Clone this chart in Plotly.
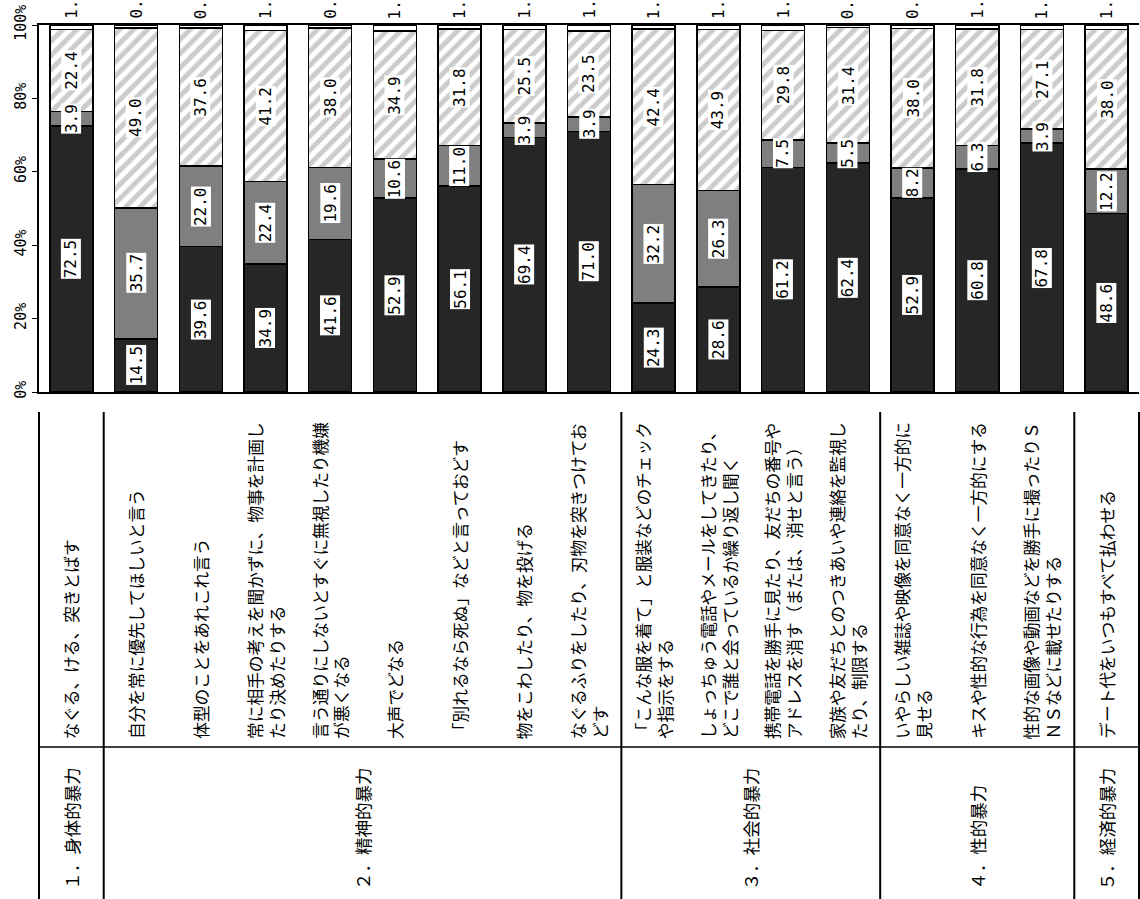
import plotly.graph_objects as go

# ---------------- data ----------------
items = [
    "なぐる、ける、突きとばす",
    "自分を常に優先してほしいと言う",
    "体型のことをあれこれ言う",
    "常に相手の考えを聞かずに、物事を計画し<br>たり決めたりする",
    "言う通りにしないとすぐに無視したり機嫌<br>が悪くなる",
    "大声でどなる",
    "「別れるなら死ぬ」などと言っておどす",
    "物をこわしたり、物を投げる",
    "なぐるふりをしたり、刃物を突きつけてお<br>どす",
    "「こんな服を着て」と服装などのチェック<br>や指示をする",
    "しょっちゅう電話やメールをしてきたり、<br>どこで誰と会っているか繰り返し聞く",
    "携帯電話を勝手に見たり、友だちの番号や<br>アドレスを消す（または、消せと言う）",
    "家族や友だちとのつきあいや連絡を監視し<br>たり、制限する",
    "いやらしい雑誌や映像を同意なく一方的に<br>見せる",
    "キスや性的な行為を同意なく一方的にする",
    "性的な画像や動画などを勝手に撮ったりＳ<br>ＮＳなどに載せたりする",
    "デート代をいつもすべて払わせる",
]
s1 = [72.5, 14.5, 39.6, 34.9, 41.6, 52.9, 56.1, 69.4, 71.0, 24.3, 28.6, 61.2, 62.4, 52.9, 60.8, 67.8, 48.6]
s2 = [3.9, 35.7, 22.0, 22.4, 19.6, 10.6, 11.0, 3.9, 3.9, 32.2, 26.3, 7.5, 5.5, 8.2, 6.3, 3.9, 12.2]
s3 = [22.4, 49.0, 37.6, 41.2, 38.0, 34.9, 31.8, 25.5, 23.5, 42.4, 43.9, 29.8, 31.4, 38.0, 31.8, 27.1, 38.0]
s4 = [1.2, 0.8, 0.8, 1.5, 0.8, 1.6, 1.1, 1.2, 1.6, 1.1, 1.2, 1.5, 0.7, 0.9, 1.1, 1.2, 1.2]

group_labels = ["１．身体的暴力", "２．精神的暴力", "３．社会的暴力", "４．性的暴力", "５．経済的暴力"]
group_sizes = [1, 8, 4, 3, 1]

y_ticks = [0, 20, 40, 60, 80, 100]

# ---------------- figure ----------------
W, H = 1140, 899
M_L, M_R, M_T, M_B = 39, 1, 25, 507
PLOT_H = H - M_T - M_B
Y0_PIX = H - M_B  # pixel of y=0


def pp(ypix):
    """pixel row -> paper y"""
    return (Y0_PIX - ypix) / PLOT_H


cats = [t.replace("<br>", "") for t in items]
n = len(cats)

fig = go.Figure()
line = dict(color="black", width=1.5)
fig.add_bar(x=cats, y=s1, marker=dict(color="#262626", line=line), showlegend=False, hoverinfo="skip")
fig.add_bar(x=cats, y=s2, marker=dict(color="#7f7f7f", line=line), showlegend=False, hoverinfo="skip")
fig.add_bar(x=cats, y=s3, marker=dict(color="white", line=line,
                                      pattern=dict(shape="/", fgcolor="#9a9a9a", bgcolor="white",
                                                   size=10, solidity=0.5)),
            showlegend=False, hoverinfo="skip")
fig.add_bar(x=cats, y=s4, marker=dict(color="white", line=line), showlegend=False, hoverinfo="skip")

ann = []
lab_font = dict(family="DejaVu Sans Mono", size=16, color="black")
for i, c in enumerate(cats):
    base = 0
    for vals in (s1, s2, s3):
        v = vals[i]
        ann.append(dict(x=c, y=base + v / 2, xref="x", yref="y", text=f"{v:.1f}",
                        textangle=-90, showarrow=False, bgcolor="white", borderpad=0,
                        font=lab_font, xanchor="center", yanchor="middle"))
        base += v
    # the small remainder label sits above the plot, cut off by the page top
    ann.append(dict(x=c, y=1, xref="x", yref="paper", yshift=4, text=f"{s4[i]:.1f}",
                    textangle=-90, showarrow=False, font=lab_font,
                    xanchor="center", yanchor="bottom"))
    # item text in the table below
    ann.append(dict(x=c, y=pp(741), xref="x", yref="paper", text=items[i], textangle=-90,
                    showarrow=False, align="left", xanchor="center", yanchor="bottom",
                    font=dict(family="Noto Sans CJK JP", size=16.7, color="black")))

shapes = []
bounds = [0]
for s in group_sizes:
    bounds.append(bounds[-1] + s)
for b in bounds:
    shapes.append(dict(type="line", xref="paper", yref="paper", x0=b / n, x1=b / n,
                       y0=pp(412), y1=pp(905), line=dict(color="black", width=2)))
shapes.append(dict(type="line", xref="paper", yref="paper", x0=0, x1=1,
                   y0=pp(747), y1=pp(747), line=dict(color="black", width=1.5)))

for g, lab in enumerate(group_labels):
    xc = (bounds[g] + bounds[g + 1]) / 2 / n
    ann.append(dict(x=xc, y=pp(892), xref="paper", yref="paper", text=lab, textangle=-90,
                    showarrow=False, xanchor="center", yanchor="bottom",
                    font=dict(family="Noto Sans CJK JP", size=17.5, color="black")))

fig.update_layout(
    width=W, height=H,
    margin=dict(l=M_L, r=M_R, t=M_T, b=M_B, pad=0),
    barmode="stack", bargap=0.335,
    plot_bgcolor="white", paper_bgcolor="white",
    annotations=ann, shapes=shapes,
    xaxis=dict(type="category", showticklabels=False, ticks="", showline=True,
               linecolor="black", linewidth=1.5, mirror=True, showgrid=False,
               range=[-0.5, n - 0.5]),
    yaxis=dict(range=[0, 100], tickvals=y_ticks, ticktext=[f"{t}%" for t in y_ticks],
               tickangle=-90, ticks="outside", ticklen=5, tickcolor="black",
               showline=True, linecolor="black", linewidth=1.5, showgrid=False,
               zeroline=False, tickfont=dict(family="DejaVu Sans Mono", size=15, color="black")),
)

fig.write_html("out.html")
